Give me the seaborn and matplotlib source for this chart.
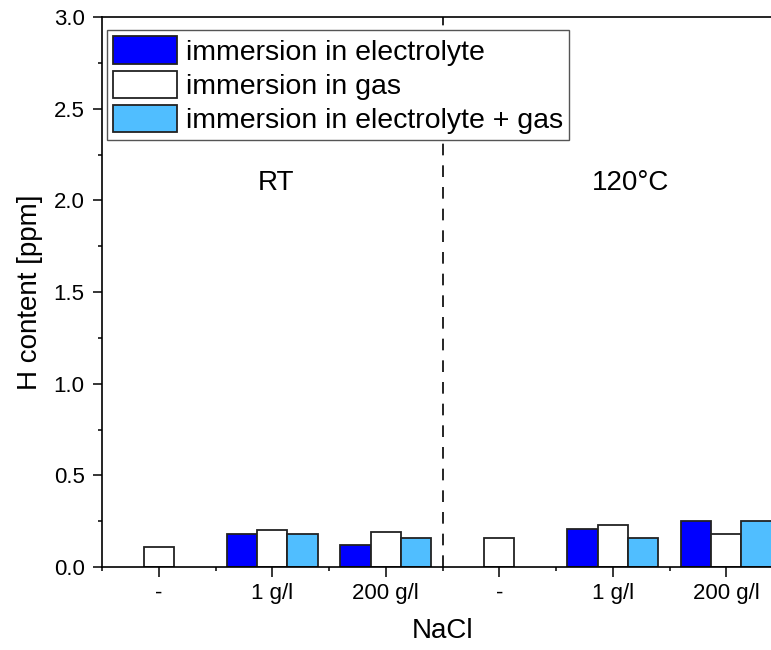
import numpy as np
import pandas as pd
import seaborn as sns
import matplotlib.pyplot as plt

# data
condition = ["RT", "RT", "RT", "120°C", "120°C", "120°C"]
nacl = ["-", "1 g/l", "200 g/l", "-", "1 g/l", "200 g/l"]
series = ["immersion in electrolyte", "immersion in gas", "immersion in electrolyte + gas"]
h_electrolyte = [np.nan, 0.18, 0.12, np.nan, 0.21, 0.25]
h_gas = [0.11, 0.20, 0.19, 0.16, 0.23, 0.18]
h_both = [np.nan, 0.18, 0.16, np.nan, 0.16, 0.25]
colors = ["#0000FF", "#FFFFFF", "#50BEFF"]

groups = [c + " " + n for c, n in zip(condition, nacl)]
df = pd.DataFrame({
    "group": groups * 3,
    "series": [series[0]] * 6 + [series[1]] * 6 + [series[2]] * 6,
    "H": h_electrolyte + h_gas + h_both,
})

sns.set_theme(style="ticks")
plt.rcParams["font.family"] = ["Liberation Sans", "DejaVu Sans"]
plt.rcParams["text.color"] = "black"
plt.rcParams["axes.labelcolor"] = "black"
plt.rcParams["xtick.color"] = "black"
plt.rcParams["ytick.color"] = "black"

fig = plt.figure(figsize=(7.71, 6.5), dpi=100)
ax = fig.add_axes([102 / 771, 83 / 650, 681 / 771, 550 / 650])

sns.barplot(data=df, x="group", y="H", hue="series", order=groups, hue_order=series,
            palette=colors, errorbar=None, edgecolor="#222222", linewidth=1.3,
            saturation=1, ax=ax)

# dashed divider between RT and 120°C
ax.axvline(len(groups) / 2 - 0.5, color="black", lw=1.2, ls=(0, (7, 6)), zorder=1)

ax.text(1.03, 2.095, "RT", ha="center", va="center", fontsize=20)
ax.text(4.16, 2.095, "120°C", ha="center", va="center", fontsize=20)

ax.set_xlim(-0.5, 5.5)
ax.set_ylim(0, 3.0)
ax.set_yticks(np.arange(0, 3.01, 0.5))
ax.set_yticks(np.arange(0.25, 3.0, 0.5), minor=True)
ax.set_xticks(range(len(groups)))
ax.set_xticklabels(nacl)
ax.set_xticks(np.arange(-0.5, len(groups) - 0.4, 1), minor=True)
ax.yaxis.set_major_formatter(plt.FormatStrFormatter("%.1f"))

ax.tick_params(axis="both", which="major", labelsize=16, width=1.1, color="black",
               labelcolor="black")
ax.tick_params(axis="x", which="major", length=7.5, pad=4)
ax.tick_params(axis="y", which="major", length=6.5, pad=6)
ax.tick_params(axis="both", which="minor", length=3, width=1.1, color="black")
for s in ax.spines.values():
    s.set_linewidth(1.2)
    s.set_color("black")

ax.set_xlabel("NaCl", fontsize=20, labelpad=10, color="black")
ax.set_ylabel("H content [ppm]", fontsize=20, labelpad=8, color="black")

sns.move_legend(ax, "upper left", bbox_to_anchor=(0.0073, 0.976), borderaxespad=0,
                title=None, fontsize=20.5, frameon=True, fancybox=False, framealpha=1,
                edgecolor="#555555", handlelength=2.25, handleheight=1.1,
                labelspacing=0.17, borderpad=0.22, handletextpad=0.3, labelcolor="black")
ax.get_legend().get_frame().set_linewidth(1.0)

plt.savefig("out.png", dpi=100)
